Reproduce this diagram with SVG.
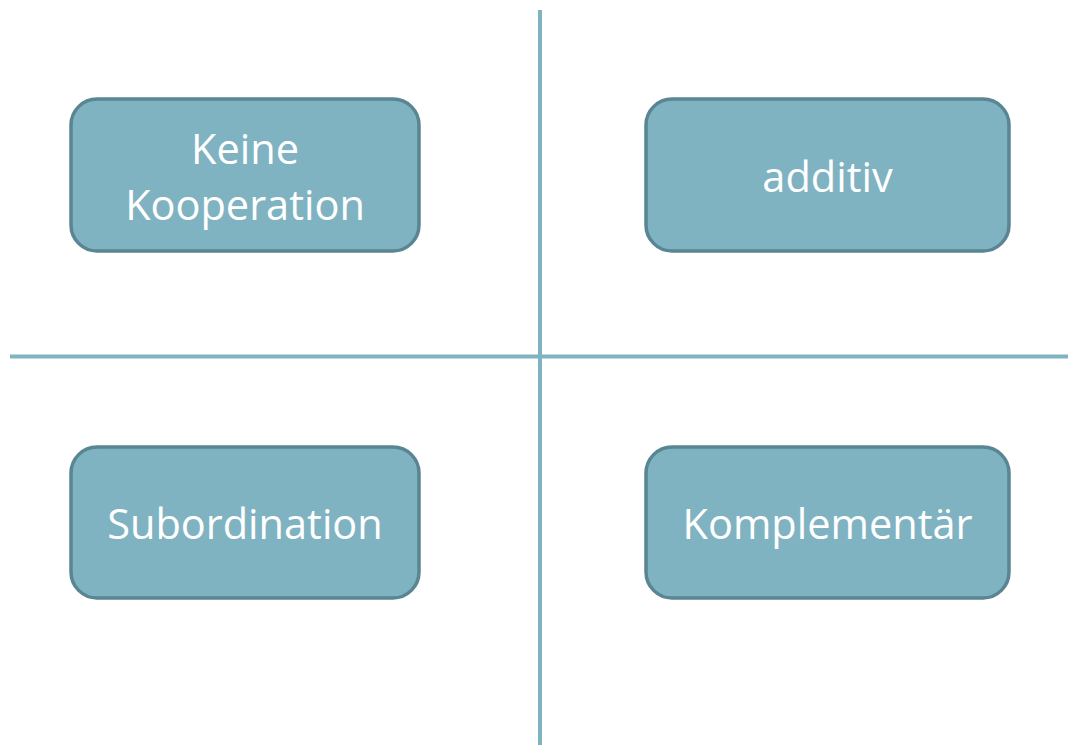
<svg xmlns="http://www.w3.org/2000/svg" width="1068" height="745" viewBox="0 0 1068 745">
<style>
.box{fill:#7FB3C2;stroke:#5A8592;stroke-width:3.5}
.lbl{fill:#ffffff;font-family:"Open Sans","Noto Sans",sans-serif;font-size:41.5px;text-anchor:middle}
.ax{stroke:#7FB3C2;stroke-width:4;fill:none}
</style>
<rect width="1068" height="745" fill="#ffffff"/>
<g id="connectors">
<line class="ax" x1="540" y1="10" x2="540" y2="745"/>
<line class="ax" x1="10" y1="356.5" x2="1068" y2="356.5"/>
</g>
<g id="node-keine">
<rect class="box" x="71" y="99" width="348" height="152" rx="26"/>
<text class="lbl" x="245" y="164">Keine</text>
<text class="lbl" x="245" y="220">Kooperation</text>
</g>
<g id="node-additiv">
<rect class="box" x="646" y="99" width="363" height="152" rx="26"/>
<text class="lbl" x="827.5" y="192">additiv</text>
</g>
<g id="node-subordination">
<rect class="box" x="71" y="447" width="348" height="151" rx="26"/>
<text class="lbl" x="245" y="539">Subordination</text>
</g>
<g id="node-komplementaer">
<rect class="box" x="646" y="447" width="363" height="151" rx="26"/>
<text class="lbl" x="827.5" y="539">Komplementär</text>
</g>
</svg>
